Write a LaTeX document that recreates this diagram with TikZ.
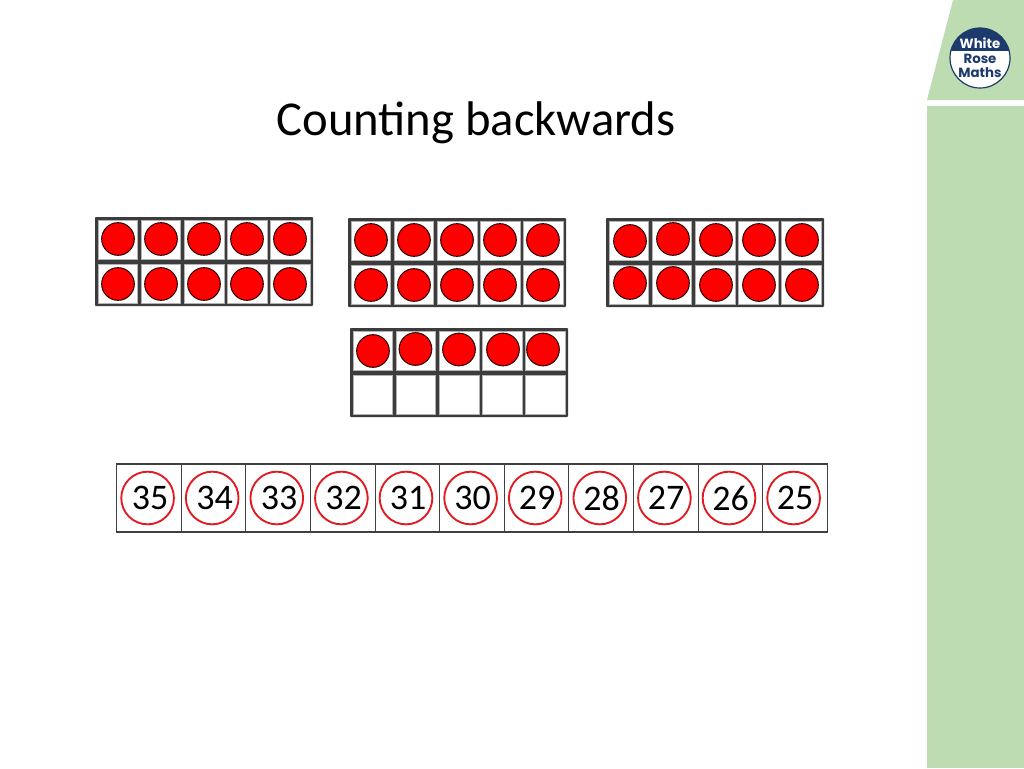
\documentclass[tikz,border=0pt]{standalone}
\usepackage{fontspec}
\setmainfont{Carlito}
\newfontfamily\logofont{Poppins}[Scale=1]
\definecolor{sidegreen}{HTML}{BEDCB2}
\definecolor{navy}{HTML}{1C3A6B}
\definecolor{framedark}{HTML}{3C3C3C}
\definecolor{dotred}{HTML}{FE0000}
\definecolor{ringred}{HTML}{E01B22}
\tikzset{
  x=0.75pt,y=-0.75pt,
  frameouter/.style={fill=framedark,draw=framedark,line width=0.6pt,rounded corners=0.6pt},
  framecell/.style={fill=white,draw=black!30,line width=0.4pt},
  dot/.style={circle,fill=dotred,draw=black!85!red,line width=0.75pt,minimum size=24.5pt,inner sep=0pt,outer sep=0pt},
  stripcell/.style={draw=black!75,line width=0.8pt,fill=white,minimum width=48.4pt,minimum height=51pt,inner sep=0pt,outer sep=0pt},
  ring/.style={circle,draw=ringred,line width=1.4pt,minimum size=39.5pt,inner sep=0pt},
  numtext/.style={font=\fontsize{27}{27}\selectfont,text=black,inner sep=0pt},
}
\newcommand{\tenframe}[4]{% name, x0, y0, rows with dots
  \fill[framedark,rounded corners=0.6pt] (#2,#3) rectangle ++(218,89);
  \foreach \c in {0,...,4}{
    \foreach \r in {0,1}{
      \filldraw[framecell] ({#2+3+43.1*\c},{#3+3+44*\r}) rectangle ++(39.6,39.6);
    }
  }
}
\begin{document}
\begin{tikzpicture}
\useasboundingbox (0,0) rectangle (1024,768);
\fill[white] (0,0) rectangle (1024,768);
% sidebar
\fill[sidegreen] (953,0) -- (1024,0) -- (1024,100) -- (927,100) -- cycle;
\fill[sidegreen] (927,106) rectangle (1024,768);
% logo
\node[circle,fill=white,draw=navy,line width=0.9pt,minimum size=45pt,inner sep=0pt] (logo) at (980,58) {};
\begin{scope}
  \clip (980,58) circle (30);
  \fill[navy] (945,25) rectangle (1015,51);
\end{scope}
\node[font=\logofont\fontsize{10}{10}\selectfont\bfseries,text=white,inner sep=0pt] (lw) at (980,43.5) {White};
\node[font=\logofont\fontsize{10}{10}\selectfont\bfseries,text=navy,inner sep=0pt] (lr) at (980,59) {Rose};
\node[font=\logofont\fontsize{10}{10}\selectfont\bfseries,text=navy,inner sep=0pt] (lm) at (980,72.5) {Maths};
% title
\node[font=\fontsize{36.5}{40}\selectfont,inner sep=0pt] (title) at (476,123) {Counting backwards};
% frames
\tenframe{f1}{95}{217}{2}
\tenframe{f2}{348}{218}{2}
\tenframe{f3}{606}{218}{2}
\tenframe{f4}{350}{328}{1}
\foreach \x [count=\i] in {118,161,204,247,290}{
  \node[dot] (a\i) at (\x,239) {};
  \node[dot] (b\i) at (\x,284) {};
}
\foreach \x [count=\i] in {371,414,457,500,543}{
  \node[dot] (c\i) at (\x,240) {};
  \node[dot] (d\i) at (\x,285) {};
}
\foreach \x/\ya/\yb [count=\i] in {630/241/283,673/239/283,716/240/285,759/240/285,802/240/285}{
  \node[dot] (e\i) at (\x,\ya) {};
  \node[dot] (g\i) at (\x,\yb) {};
}
\foreach \x/\y [count=\i] in {373/351,415.5/349,459/349.5,503/349.5,543/349.5}{
  \node[dot] (h\i) at (\x,\y) {};
}
% number strip
\foreach \n [count=\i from 0] in {35,34,33,32,31,30,29,28,27,26,25}{
  \node[stripcell] (s\i) at ({149+64.6*\i},498) {};
  \node[ring] (r\i) at ({147.6+64.6*\i},498) {};
  \node[numtext] (n\i) at ({150+64.5*\i},498) {\n};
}
\end{tikzpicture}
\end{document}
